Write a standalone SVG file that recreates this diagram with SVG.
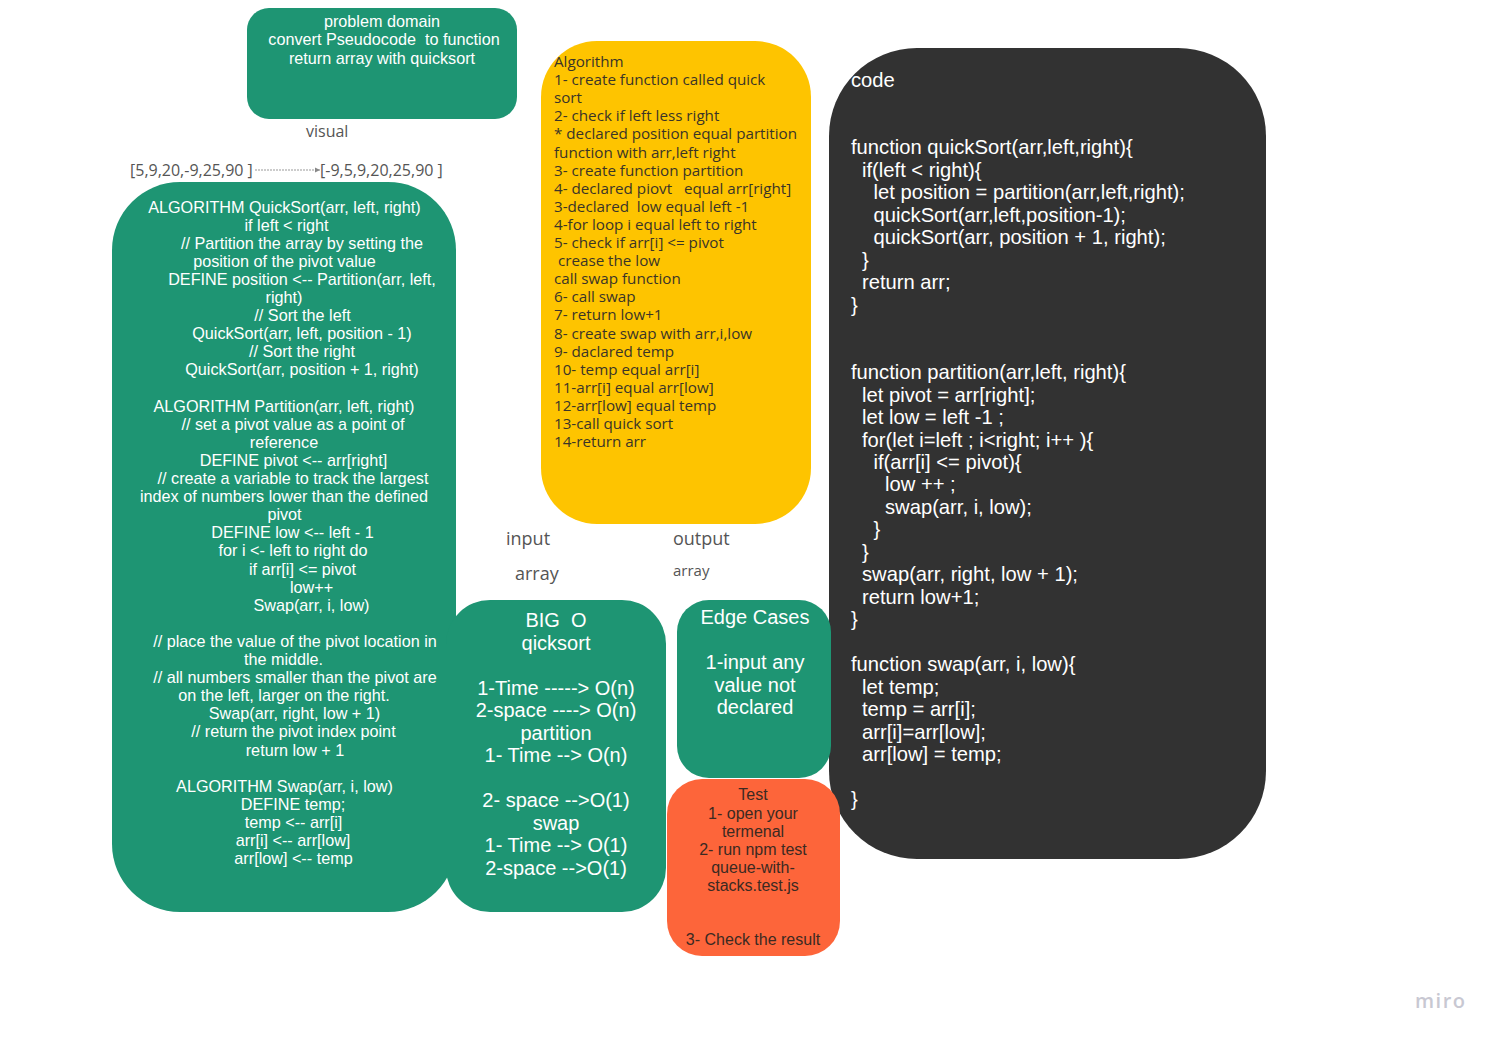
<svg xmlns="http://www.w3.org/2000/svg" width="1497" height="1043" viewBox="0 0 1497 1043">
<style>
text{white-space:pre}
.green{fill:#1e9573}
.yellow{fill:#fec400}
.orange{fill:#fd653a}
.dark{fill:#323232}
.w16{font-family:"Liberation Sans",Arial,sans-serif;font-size:16.2px;fill:#ffffff;text-anchor:middle}
.w20{font-family:"Liberation Sans",Arial,sans-serif;font-size:20px;fill:#ffffff;text-anchor:middle}
.code{font-family:"Liberation Sans",Arial,sans-serif;font-size:20.2px;fill:#ffffff}
.yt{font-family:"Open Sans",sans-serif;font-size:15.2px;fill:#3a3428}
.tt{font-family:"Liberation Sans",Arial,sans-serif;font-size:16px;fill:#3b2a22;text-anchor:middle}
.lbl{font-family:"Open Sans",sans-serif;fill:#555555}
</style>
<defs>
<marker id="arr" markerWidth="6" markerHeight="6" refX="5" refY="3" orient="auto" markerUnits="userSpaceOnUse">
<path d="M0,0.5 L5,3 L0,5.5 z" fill="#888888"/>
</marker>
</defs>
<rect width="1497" height="1043" fill="#ffffff"/>

<g id="problem-domain">
<rect class="green" x="247" y="8" width="270" height="111" rx="22"/>
<text class="w16" x="382" y="26.5">problem domain</text>
<text class="w16" x="384" y="45">convert Pseudocode  to function</text>
<text class="w16" x="382" y="63.5">return array with quicksort</text>
</g>

<g id="visual-labels">
<text class="lbl" x="306" y="137" font-size="16">visual</text>
<text class="lbl" x="130" y="176" font-size="16">[5,9,20,-9,25,90 ]</text>
<text class="lbl" x="320" y="176" font-size="16">[-9,5,9,20,25,90 ]</text>
</g>

<g id="connectors">
<line x1="255" y1="170" x2="320" y2="170" stroke="#999999" stroke-width="1" stroke-dasharray="2,1" marker-end="url(#arr)"/>
</g>

<g id="pseudocode">
<rect class="green" x="112" y="182" width="344" height="730" rx="68"/>
<text class="w16" x="284.5" y="212.5">ALGORITHM QuickSort(arr, left, right)</text>
<text class="w16" x="286.5" y="230.6">if left &lt; right</text>
<text class="w16" x="302" y="248.7">// Partition the array by setting the</text>
<text class="w16" x="284.5" y="266.8">position of the pivot value</text>
<text class="w16" x="302" y="284.9">DEFINE position &lt;-- Partition(arr, left,</text>
<text class="w16" x="284" y="303">right)</text>
<text class="w16" x="302.5" y="321.1">// Sort the left</text>
<text class="w16" x="302" y="339.2">QuickSort(arr, left, position - 1)</text>
<text class="w16" x="302" y="357.3">// Sort the right</text>
<text class="w16" x="302" y="375.4">QuickSort(arr, position + 1, right)</text>
<text class="w16" x="284" y="411.6">ALGORITHM Partition(arr, left, right)</text>
<text class="w16" x="293" y="429.7">// set a pivot value as a point of</text>
<text class="w16" x="284" y="447.8">reference</text>
<text class="w16" x="293.5" y="465.9">DEFINE pivot &lt;-- arr[right]</text>
<text class="w16" x="293" y="484">// create a variable to track the largest</text>
<text class="w16" x="284" y="502.1">index of numbers lower than the defined</text>
<text class="w16" x="284.5" y="520.2">pivot</text>
<text class="w16" x="292.5" y="538.3">DEFINE low &lt;-- left - 1</text>
<text class="w16" x="293" y="556.4">for i &lt;- left to right do</text>
<text class="w16" x="302.5" y="574.5">if arr[i] &lt;= pivot</text>
<text class="w16" x="311.5" y="592.6">low++</text>
<text class="w16" x="311.5" y="610.7">Swap(arr, i, low)</text>
<text class="w16" x="295" y="646.9">// place the value of the pivot location in</text>
<text class="w16" x="283.5" y="665">the middle.</text>
<text class="w16" x="295" y="683.1">// all numbers smaller than the pivot are</text>
<text class="w16" x="284" y="701.2">on the left, larger on the right.</text>
<text class="w16" x="294.5" y="719.3">Swap(arr, right, low + 1)</text>
<text class="w16" x="293.5" y="737.4">// return the pivot index point</text>
<text class="w16" x="295" y="755.5">return low + 1</text>
<text class="w16" x="284.5" y="791.7">ALGORITHM Swap(arr, i, low)</text>
<text class="w16" x="293" y="809.8">DEFINE temp;</text>
<text class="w16" x="293.5" y="827.9">temp &lt;-- arr[i]</text>
<text class="w16" x="293" y="846">arr[i] &lt;-- arr[low]</text>
<text class="w16" x="293.5" y="864.1">arr[low] &lt;-- temp</text>
</g>

<g id="big-o">
<rect class="green" x="446" y="600" width="220" height="312" rx="44"/>
<text class="w20" x="556" y="627">BIG  O</text>
<text class="w20" x="556" y="649.5">qicksort</text>
<text class="w20" x="556" y="694.5">1-Time -----&gt; O(n)</text>
<text class="w20" x="556" y="717">2-space ----&gt; O(n)</text>
<text class="w20" x="556" y="739.5">partition</text>
<text class="w20" x="556" y="762">1- Time --&gt; O(n)</text>
<text class="w20" x="556" y="807">2- space --&gt;O(1)</text>
<text class="w20" x="556" y="829.5">swap</text>
<text class="w20" x="556" y="852">1- Time --&gt; O(1)</text>
<text class="w20" x="556" y="874.5">2-space --&gt;O(1)</text>
</g>

<g id="algorithm">
<rect class="yellow" x="541" y="41" width="270" height="483" rx="56"/>
<text class="yt" x="554" y="67">Algorithm</text>
<text class="yt" x="554" y="85.1">1- create function called quick</text>
<text class="yt" x="554" y="103.2">sort</text>
<text class="yt" x="554" y="121.3">2- check if left less right</text>
<text class="yt" x="554" y="139.4">* declared position equal partition</text>
<text class="yt" x="554" y="157.5">function with arr,left right</text>
<text class="yt" x="554" y="175.6">3- create function partition</text>
<text class="yt" x="554" y="193.7">4- declared piovt   equal arr[right]</text>
<text class="yt" x="554" y="211.8">3-declared  low equal left -1</text>
<text class="yt" x="554" y="229.9">4-for loop i equal left to right</text>
<text class="yt" x="554" y="248">5- check if arr[i] &lt;= pivot</text>
<text class="yt" x="554" y="266.1"> crease the low</text>
<text class="yt" x="554" y="284.2">call swap function</text>
<text class="yt" x="554" y="302.3">6- call swap</text>
<text class="yt" x="554" y="320.4">7- return low+1</text>
<text class="yt" x="554" y="338.5">8- create swap with arr,i,low</text>
<text class="yt" x="554" y="356.6">9- daclared temp</text>
<text class="yt" x="554" y="374.7">10- temp equal arr[i]</text>
<text class="yt" x="554" y="392.8">11-arr[i] equal arr[low]</text>
<text class="yt" x="554" y="410.9">12-arr[low] equal temp</text>
<text class="yt" x="554" y="429">13-call quick sort</text>
<text class="yt" x="554" y="447.1">14-return arr</text>
</g>

<g id="io-labels">
<text class="lbl" x="506" y="545" font-size="18">input</text>
<text class="lbl" x="673" y="545" font-size="18">output</text>
<text class="lbl" x="515" y="580" font-size="18">array</text>
<text class="lbl" x="673" y="576" font-size="15">array</text>
</g>

<g id="code">
<rect class="dark" x="829" y="48" width="437" height="811" rx="88"/>
<text class="code" x="851" y="87">code</text>
<text class="code" x="851" y="154.4">function quickSort(arr,left,right){</text>
<text class="code" x="862" y="176.9">if(left &lt; right){</text>
<text class="code" x="873.5" y="199.4">let position = partition(arr,left,right);</text>
<text class="code" x="873.5" y="221.8">quickSort(arr,left,position-1);</text>
<text class="code" x="873.5" y="244.3">quickSort(arr, position + 1, right);</text>
<text class="code" x="862" y="266.8">}</text>
<text class="code" x="862" y="289.2">return arr;</text>
<text class="code" x="851" y="311.7">}</text>
<text class="code" x="851" y="379.1">function partition(arr,left, right){</text>
<text class="code" x="862" y="401.6">let pivot = arr[right];</text>
<text class="code" x="862" y="424">let low = left -1 ;</text>
<text class="code" x="862" y="446.5">for(let i=left ; i&lt;right; i++ ){</text>
<text class="code" x="873.5" y="469">if(arr[i] &lt;= pivot){</text>
<text class="code" x="885" y="491.4">low ++ ;</text>
<text class="code" x="885" y="513.9">swap(arr, i, low);</text>
<text class="code" x="873.5" y="536.4">}</text>
<text class="code" x="862" y="558.9">}</text>
<text class="code" x="862" y="581.3">swap(arr, right, low + 1);</text>
<text class="code" x="862" y="603.8">return low+1;</text>
<text class="code" x="851" y="626.3">}</text>
<text class="code" x="851" y="671.2">function swap(arr, i, low){</text>
<text class="code" x="862" y="693.7">let temp;</text>
<text class="code" x="862" y="716.1">temp = arr[i];</text>
<text class="code" x="862" y="738.6">arr[i]=arr[low];</text>
<text class="code" x="862" y="761.1">arr[low] = temp;</text>
<text class="code" x="851" y="806">}</text>
</g>

<g id="edge-cases">
<rect class="green" x="677" y="600" width="154" height="178" rx="32"/>
<text class="w20" x="755" y="624">Edge Cases</text>
<text class="w20" x="755" y="669">1-input any</text>
<text class="w20" x="755" y="691.5">value not</text>
<text class="w20" x="755" y="714">declared</text>
</g>

<g id="test">
<rect class="orange" x="667" y="779" width="173" height="177" rx="35"/>
<text class="tt" x="753" y="799.5">Test</text>
<text class="tt" x="753" y="818.6">1- open your</text>
<text class="tt" x="753" y="836.7">termenal</text>
<text class="tt" x="753" y="854.8">2- run npm test</text>
<text class="tt" x="753" y="872.9">queue-with-</text>
<text class="tt" x="753" y="891">stacks.test.js</text>
<text class="tt" x="753" y="945.3">3- Check the result</text>
</g>

<text x="1415" y="1008" font-family="'Open Sans',sans-serif" font-size="20" font-weight="600" letter-spacing="1.5" fill="#c8c8d2">miro</text>
</svg>
